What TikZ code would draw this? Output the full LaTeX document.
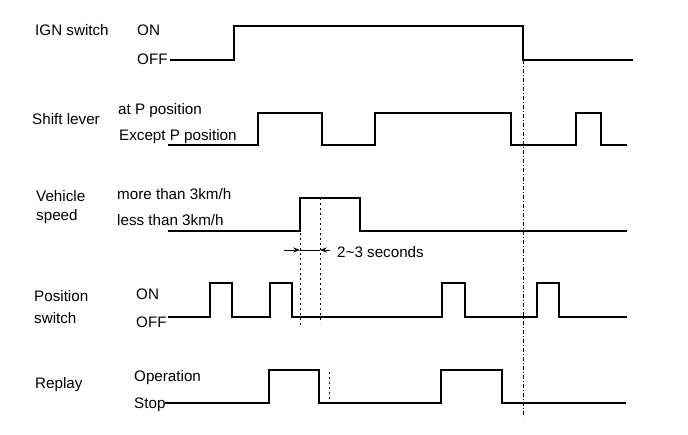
\documentclass[tikz,border=0pt]{standalone}
\usepackage{fontspec}
\setmainfont{Liberation Sans}
\usetikzlibrary{arrows.meta}
\definecolor{ink}{HTML}{000000}

\begin{document}
\begin{tikzpicture}[x=1pt, y=-1pt, ink,
  font=\fontsize{15.2}{17}\selectfont,
  >={Stealth[length=2.4mm,width=1.8mm]},
  wave/.style={line width=1.8pt, line join=miter},
  guide/.style={line width=0.8pt, dash pattern=on 2pt off 3pt},
  edge/.style={line width=0.8pt, dash pattern=on 4pt off 2pt on 1pt off 2pt},
  sig/.style={anchor=base west, inner sep=0pt},
  lvl/.style={anchor=base west, inner sep=0pt}]

\useasboundingbox (0,0) rectangle (688,434);

% IGN switch
\node[sig] (ign) at (35,35) {IGN switch};
\node[lvl] (ignon) at (137,35) {ON};
\node[lvl] (ignoff) at (137,64) {OFF};
\draw[wave] (170,60) -| (234,26) -| (523,60) -- (633,60);

% shift lever
\node[sig] (shift) at (32,124) {Shift lever};
\node[lvl] (shiftp) at (118,114) {at P position};
\node[lvl] (shiftx) at (119,140) {Except P position};
\draw[wave] (168,145) -| (258,113) -| (322,145) -| (375,113) -| (511,145)
  -| (576,113) -| (601,145) -- (627,145);

% vehicle speed
\node[sig] (speed) at (36,201) {Vehicle};
\node[sig] (speed2) at (36,220) {speed};
\node[lvl] (speedhi) at (117,199) {more than 3km/h};
\node[lvl] (speedlo) at (117,225) {less than 3km/h};
\draw[wave] (168,231) -| (300,198) -| (360,231) -- (627,231);

% delay
\coordinate (t1) at (300,250);
\coordinate (t2) at (320,250);
\draw[guide] (300,198) -- (300,327);
\draw[guide] (320,198) -- (320,323);
\draw[->, line width=0.8pt] (284,250) -- (t1);
\draw[line width=0.8pt] (t1) -- (t2);
\draw[->, line width=0.8pt] (330,250) -- (t2);
\node[sig] (delay) at (337,257) {2\textasciitilde 3 seconds};

% position switch
\node[sig] (pos) at (34,301) {Position};
\node[sig] (pos2) at (34,323) {switch};
\node[lvl] (poson) at (136,299) {ON};
\node[lvl] (posoff) at (136,327) {OFF};
\draw[wave] (168,317) -| (210,283) -| (232,317) -| (270,283) -| (292,317)
  -| (442,283) -| (465,317) -| (537,283) -| (559,317) -- (627,317);

% replay
\node[sig] (replay) at (35,388) {Replay};
\node[lvl] (replayop) at (134,381) {Operation};
\node[lvl] (replaystop) at (134,408) {Stop};
\draw[wave] (165,403) -| (269,370) -| (319,403) -| (441,370) -| (502,403) -- (626,403);
\draw[guide] (329,372) -- (329,403);

% ign off edge
\draw[edge] (523,60) -- (523,417);

\end{tikzpicture}
\end{document}
